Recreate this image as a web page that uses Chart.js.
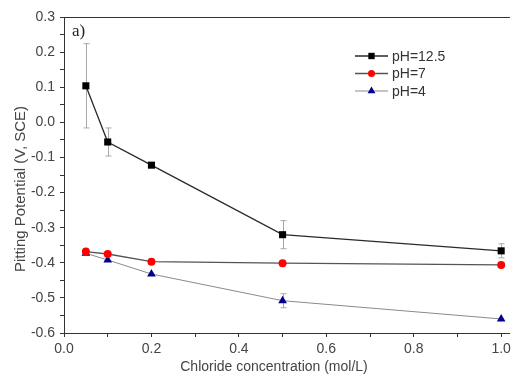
<!DOCTYPE html>
<html>
<head>
<meta charset="utf-8">
<script src="https://cdn.jsdelivr.net/npm/chart.js@4/dist/chart.umd.min.js"></script>
<style>
html, body { margin: 0; padding: 0; background: #fff; }
</style>
</head>
<body>
<canvas id="grafico-pite" width="515" height="376"></canvas>
<script>
// dados
var concentracao = [0.05, 0.1, 0.2, 0.5, 1.0];
var ph125 = [0.104, -0.056, -0.122, -0.320, -0.366];
var ph125Erro = [0.12, 0.04, 0, 0.04, 0.02];
var ph7 = [-0.368, -0.375, -0.397, -0.401, -0.406];
var ph4 = [-0.373, -0.392, -0.432, -0.508, -0.560];
var ph4Erro = [0, 0, 0, 0.02, 0];
var rotulos = ['pH=12.5', 'pH=7', 'pH=4'];
var tituloX = 'Chloride concentration (mol/L)';
var tituloY = 'Pitting Potential (V, SCE)';
var painel = 'a)';

var fonte = '"Liberation Sans", Arial, sans-serif';

function pontos(valores) {
    return concentracao.map(function (c, i) { return { x: c, y: valores[i] }; });
}

var series = [
    { label: rotulos[0], data: pontos(ph125), erro: ph125Erro, borderColor: '#2a2a2a', backgroundColor: '#000',
      pointStyle: 'rect', pointRadius: 5, borderWidth: 1.3 },
    { label: rotulos[1], data: pontos(ph7), erro: null, borderColor: '#555', backgroundColor: '#ff0000',
      pointStyle: 'circle', pointRadius: 4, borderWidth: 1.3 },
    { label: rotulos[2], data: pontos(ph4), erro: ph4Erro, borderColor: '#8a8a8a', backgroundColor: '#00008b',
      pointStyle: 'triangle', pointRadius: 5, borderWidth: 1 }
];
series.forEach(function (s) {
    s.pointBackgroundColor = s.backgroundColor;
    s.pointBorderColor = s.backgroundColor;
    s.pointBorderWidth = 0;
    s.pointHoverRadius = s.pointRadius;
    s.clip = false;
    s.fill = false;
    s.tension = 0;
});

var barrasErro = {
    id: 'barrasErro',
    beforeDatasetsDraw: function (chart) {
        var ctx = chart.ctx, sx = chart.scales.x, sy = chart.scales.y;
        ctx.save();
        ctx.strokeStyle = '#a8a8a8';
        ctx.lineWidth = 1;
        chart.data.datasets.forEach(function (ds) {
            if (!ds.erro) return;
            ds.data.forEach(function (p, i) {
                var e = ds.erro[i];
                if (!e) return;
                var px = Math.round(sx.getPixelForValue(p.x)) + 0.5;
                var t = sy.getPixelForValue(p.y + e);
                var b = sy.getPixelForValue(p.y - e);
                ctx.beginPath();
                ctx.moveTo(px, t); ctx.lineTo(px, b);
                ctx.moveTo(px - 3, t); ctx.lineTo(px + 3, t);
                ctx.moveTo(px - 3, b); ctx.lineTo(px + 3, b);
                ctx.stroke();
            });
        });
        ctx.restore();
    }
};

var extras = {
    id: 'extras',
    afterDraw: function (chart) {
        var ctx = chart.ctx, a = chart.chartArea;
        ctx.save();
        // borda superior
        ctx.strokeStyle = '#333';
        ctx.lineWidth = 1;
        ctx.beginPath();
        ctx.moveTo(a.left, a.top + 0.5);
        ctx.lineTo(a.right, a.top + 0.5);
        ctx.stroke();

        // titulos dos eixos
        ctx.fillStyle = '#444';
        ctx.font = '14px ' + fonte;
        ctx.textAlign = 'center';
        ctx.textBaseline = 'middle';
        ctx.fillText(tituloX, 274, 367);
        ctx.save();
        ctx.translate(21, 189);
        ctx.rotate(-Math.PI / 2);
        ctx.font = '15px ' + fonte;
        ctx.fillText(tituloY, 0, 0);
        ctx.restore();

        // painel a)
        ctx.fillStyle = '#222';
        ctx.font = '17px "Liberation Serif", "Times New Roman", serif';
        ctx.textAlign = 'left';
        ctx.fillText(painel, 72, 32);

        // legenda
        var y0 = 56, passo = 17.5;
        chart.data.datasets.forEach(function (ds, i) {
            var y = y0 + i * passo;
            ctx.strokeStyle = ds.borderColor;
            ctx.lineWidth = ds.borderWidth;
            ctx.beginPath();
            ctx.moveTo(355, y); ctx.lineTo(388, y);
            ctx.stroke();
            ctx.fillStyle = ds.backgroundColor;
            Chart.helpers.drawPoint(ctx, { pointStyle: ds.pointStyle, radius: ds.pointRadius - 0.5, rotation: 0, borderWidth: 0 }, 371.5, y);
            ctx.fillStyle = '#333';
            ctx.font = '14px ' + fonte;
            ctx.textAlign = 'left';
            ctx.fillText(ds.label, 392, y + 1);
        });
        ctx.restore();
    }
};

var ctx = document.getElementById('grafico-pite').getContext('2d');
var grafico = new Chart(ctx, {
    type: 'line',
    data: { datasets: series },
    options: {
        responsive: false,
        animation: false,
        devicePixelRatio: 1,
        layout: { padding: { top: 17, right: 0, left: 0, bottom: 0 } },
        plugins: { legend: { display: false }, tooltip: { enabled: false } },
        scales: {
            x: {
                type: 'linear',
                min: 0,
                max: 1.02,
                ticks: {
                    stepSize: 0.1,
                    includeBounds: false,
                    autoSkip: false,
                    maxRotation: 0,
                    padding: 4,
                    color: '#444',
                    font: { family: fonte, size: 14 },
                    callback: function (v) {
                        var r = Math.round(v * 10);
                        return r % 2 === 0 ? (r / 10).toFixed(1) : '';
                    }
                },
                afterBuildTicks: function (s) {
                    s.ticks = s.ticks.filter(function (t) { return t.value <= 1.0001; });
                },
                grid: { drawOnChartArea: false, tickLength: 4, color: '#333' },
                border: { color: '#333', width: 1 },
                afterFit: function (s) { s.height = 43; }
            },
            y: {
                min: -0.6,
                max: 0.3,
                ticks: {
                    stepSize: 0.05,
                    autoSkip: false,
                    padding: 5,
                    color: '#444',
                    font: { family: fonte, size: 14 },
                    callback: function (v) {
                        var r = Math.round(v * 20);
                        return r % 2 === 0 ? (Math.round(v * 10) / 10).toFixed(1) : '';
                    }
                },
                grid: { drawOnChartArea: false, tickLength: 4, color: '#333' },
                border: { color: '#333', width: 1 },
                afterFit: function (s) { s.width = 64; }
            }
        }
    },
    plugins: [barrasErro, extras]
});
</script>
</body>
</html>
